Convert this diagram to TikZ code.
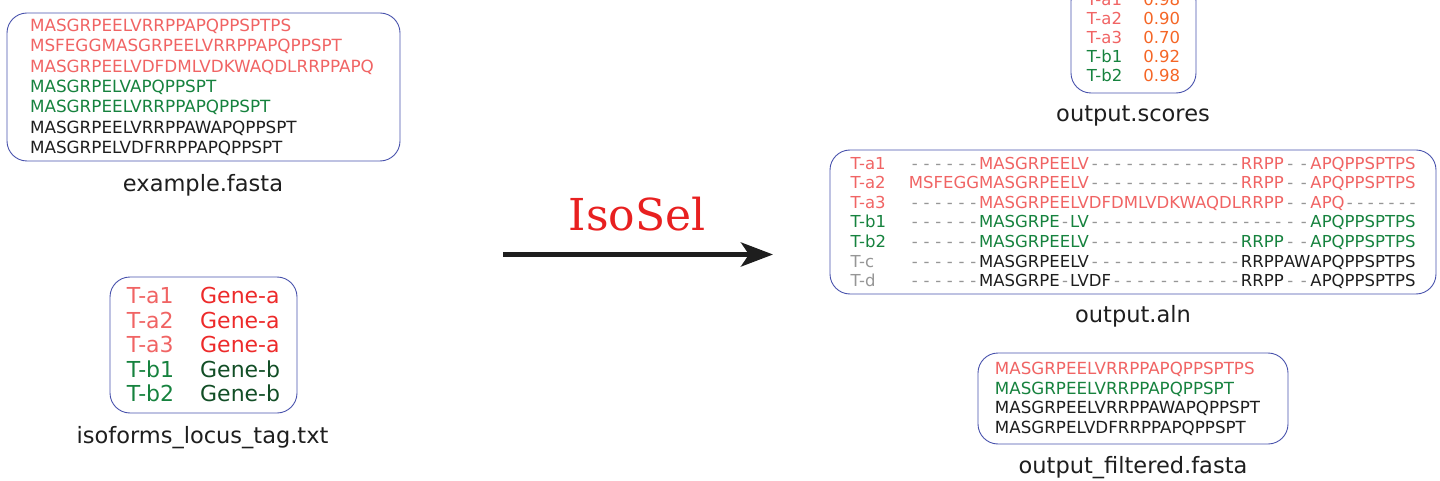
\documentclass[tikz,border=0pt]{standalone}
\usepackage{fontspec}
\setmainfont{DejaVu Sans}
\newfontfamily\toolfont{DejaVu Serif}
\usepackage{array}
\usetikzlibrary{arrows.meta}

\definecolor{isoA}{RGB}{240,100,100}
\definecolor{geneA}{RGB}{237,42,42}
\definecolor{isoB}{RGB}{22,130,62}
\definecolor{geneB}{RGB}{18,78,38}
\definecolor{score}{RGB}{245,102,38}
\definecolor{gapc}{RGB}{150,150,150}
\definecolor{ink}{RGB}{30,30,30}
\definecolor{frame}{RGB}{72,82,172}
\definecolor{tool}{RGB}{232,32,32}

% one grey gap per column, spread over the block
\newcommand{\gaps}[1]{\foreach \k in {1,...,#1}{\hfill\textcolor{gapc}{-}\hfill}}
% a gap as wide as the residue it stands for
\newcommand{\gapfor}[1]{{\setbox0\hbox{#1}\makebox[\wd0]{\textcolor{gapc}{-}}}}
% row label, and the colour of the rest of the row
\def\rowc{ink}
\newcommand{\seqrow}[3]{\gdef\rowc{#2}\textcolor{#1}{#3}}

\tikzset{
  filebox/.style={draw=frame, line width=0.9pt, rounded corners=20pt, inner sep=0pt},
  fname/.style={anchor=base, text=ink, font=\fontsize{22.5}{27}\selectfont},
  flow/.style={-{Stealth[length=32pt,width=24pt,inset=8pt]}, line width=5pt, draw=ink},
}

\begin{document}
\begin{tikzpicture}[x=1pt, y=-1pt]
  \clip (0,0) rectangle (1440,481);

  % inputs
  \node[filebox, minimum width=393pt, minimum height=148pt] (fasta) at (203.5,87)
    {\fontsize{16.8}{20.3}\selectfont\begin{tabular}{@{}l@{\hspace{3pt}}}\noalign{\vskip3pt}
      \textcolor{isoA}{MASGRPEELVRRPPAPQPPSPTPS}\\
      \textcolor{isoA}{MSFEGGMASGRPEELVRRPPAPQPPSPT}\\
      \textcolor{isoA}{MASGRPEELVDFDMLVDKWAQDLRRPPAPQ}\\
      \textcolor{isoB}{MASGRPELVAPQPPSPT}\\
      \textcolor{isoB}{MASGRPEELVRRPPAPQPPSPT}\\
      \textcolor{ink}{MASGRPEELVRRPPAWAPQPPSPT}\\
      \textcolor{ink}{MASGRPELVDFRRPPAPQPPSPT}
    \end{tabular}};
  \node[fname] (fastaname) at (203,191.5) {example.fasta};

  \node[filebox, minimum width=187pt, minimum height=136pt] (locus) at (203.5,345)
    {\fontsize{22}{24.5}\selectfont\begin{tabular}{@{}l@{\hspace{26pt}}l@{}}\noalign{\vskip6pt}
      \textcolor{isoA}{T-a1} & \textcolor{geneA}{Gene-a}\\
      \textcolor{isoA}{T-a2} & \textcolor{geneA}{Gene-a}\\
      \textcolor{isoA}{T-a3} & \textcolor{geneA}{Gene-a}\\
      \textcolor{isoB}{T-b1} & \textcolor{geneB}{Gene-b}\\
      \textcolor{isoB}{T-b2} & \textcolor{geneB}{Gene-b}
    \end{tabular}};
  \node[fname] (locusname) at (202.5,443.5) {isoforms\_locus\_tag.txt};

  % the tool
  \coordinate (in) at (503,254.5);
  \coordinate (out) at (773,254.5);
  \draw[flow] (in) -- (out);
  \node[anchor=base, text=tool, font=\toolfont\fontsize{44}{50}\selectfont] (isosel) at (637,230) {IsoSel};

  % outputs
  \node[filebox, minimum width=125pt, minimum height=112pt] (scores) at (1133.5,37)
    {\fontsize{16.5}{19}\selectfont\begin{tabular}{@{}l@{\hspace{21pt}}l@{}}\noalign{\vskip6pt}
      \textcolor{isoA}{T-a1} & \textcolor{score}{0.98}\\
      \textcolor{isoA}{T-a2} & \textcolor{score}{0.90}\\
      \textcolor{isoA}{T-a3} & \textcolor{score}{0.70}\\
      \textcolor{isoB}{T-b1} & \textcolor{score}{0.92}\\
      \textcolor{isoB}{T-b2} & \textcolor{score}{0.98}
    \end{tabular}};
  \node[fname] (scoresname) at (1133,121.5) {output.scores};

  \node[filebox, minimum width=606pt, minimum height=144pt] (aln) at (1133,222)
    {\fontsize{16.5}{19.6}\selectfont\begin{tabular}{@{}l@{\hspace{23pt}}*{7}{>{\color{\rowc}}l@{}}}\noalign{\vskip4pt}
      \seqrow{isoA}{isoA}{T-a1} & \gaps{6} & MASGRPEELV & \gaps{13} & RRPP & \gaps{2} & APQ & PPSPTPS\\
      \seqrow{isoA}{isoA}{T-a2} & MSFEGG & MASGRPEELV & \gaps{13} & RRPP & \gaps{2} & APQ & PPSPTPS\\
      \seqrow{isoA}{isoA}{T-a3} & \gaps{6} & MASGRPEELV & DFDMLVDKWAQDL & RRPP & \gaps{2} & APQ & \gaps{7}\\
      \seqrow{isoB}{isoB}{T-b1} & \gaps{6} & MASGRPE\gapfor{E}LV & \gaps{13} & \gaps{4} & \gaps{2} & APQ & PPSPTPS\\
      \seqrow{isoB}{isoB}{T-b2} & \gaps{6} & MASGRPEELV & \gaps{13} & RRPP & \gaps{2} & APQ & PPSPTPS\\
      \seqrow{gapc}{ink}{T-c} & \gaps{6} & MASGRPEELV & \gaps{13} & RRPP & AW & APQ & PPSPTPS\\
      \seqrow{gapc}{ink}{T-d} & \gaps{6} & MASGRPE\gapfor{E}LV & DF\gaps{11} & RRPP & \gaps{2} & APQ & PPSPTPS
    \end{tabular}};
  \node[fname] (alnname) at (1133,322.5) {output.aln};

  \node[filebox, minimum width=310pt, minimum height=91pt] (filtered) at (1133,398.5)
    {\fontsize{16.7}{19.7}\selectfont\begin{tabular}{@{}l@{\hspace{11pt}}}\noalign{\vskip3pt}
      \textcolor{isoA}{MASGRPEELVRRPPAPQPPSPTPS}\\
      \textcolor{isoB}{MASGRPEELVRRPPAPQPPSPT}\\
      \textcolor{ink}{MASGRPEELVRRPPAWAPQPPSPT}\\
      \textcolor{ink}{MASGRPELVDFRRPPAPQPPSPT}
    \end{tabular}};
  \node[fname] (filteredname) at (1133,473.5) {output\_filtered.fasta};
\end{tikzpicture}
\end{document}
